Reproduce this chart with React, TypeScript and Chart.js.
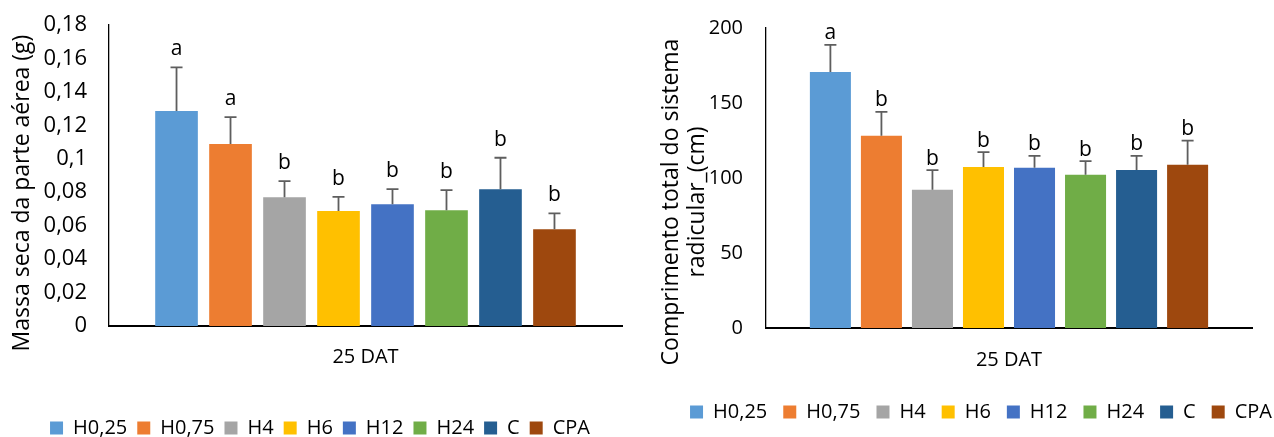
import React, { useEffect, useRef } from "react";
import { Chart, registerables } from "chart.js";

Chart.register(...registerables);

const FONT = "'Open Sans', 'Noto Sans', sans-serif";
Chart.defaults.font.family = FONT;
Chart.defaults.color = "#000";

// ---- data ----
const category = ["25 DAT"];
const groups = ["H0,25", "H0,75", "H4", "H6", "H12", "H24", "C", "CPA"];
const colors = ["#5B9BD5", "#ED7D31", "#A5A5A5", "#FFC000", "#4472C4", "#70AD47", "#255E91", "#9E480E"];

const massaSeca = [0.1285, 0.1088, 0.077, 0.0687, 0.0728, 0.0692, 0.0818, 0.0579];
const massaSecaErro = [0.0262, 0.0161, 0.0096, 0.0085, 0.009, 0.012, 0.0188, 0.0094];
const massaSecaLetras = ["a", "a", "b", "b", "b", "b", "b", "b"];
const massaTicks = ["0", "0,02", "0,04", "0,06", "0,08", "0,1", "0,12", "0,14", "0,16", "0,18"];

const comprimento = [170.7, 128.1, 92.1, 107.4, 106.8, 102.1, 105.4, 108.8];
const comprimentoErro = [18.0, 16.0, 13.1, 9.8, 8.0, 9.1, 9.4, 16.1];
const comprimentoLetras = ["a", "b", "b", "b", "b", "b", "b", "b"];
const comprimentoTicks = ["0", "50", "100", "150", "200"];

const massaTitle = ["Massa seca da parte aérea (g)"];
const comprimentoTitle = ["Comprimento total do sistema", "radicular_(cm)"];

function makeErrorPlugin(errors: number[], letters: string[], gap: number) {
  return {
    id: "errorBarsLetters",
    afterDatasetsDraw(chart: any) {
      const { ctx } = chart;
      const yScale = chart.scales.y;
      chart.data.datasets.forEach((ds: any, i: number) => {
        const meta = chart.getDatasetMeta(i);
        const el = meta.data[0];
        if (!el) return;
        const v = ds.data[0];
        const top = yScale.getPixelForValue(v + errors[i]);
        ctx.save();
        ctx.strokeStyle = "#5E5E5E";
        ctx.lineWidth = 1.8;
        ctx.beginPath();
        ctx.moveTo(el.x, el.y);
        ctx.lineTo(el.x, top);
        ctx.moveTo(el.x - 6, top);
        ctx.lineTo(el.x + 6, top);
        ctx.stroke();
        ctx.fillStyle = "#000";
        ctx.font = `21px ${FONT}`;
        ctx.textAlign = "center";
        ctx.textBaseline = "alphabetic";
        ctx.fillText(letters[i], el.x, top - gap);
        ctx.restore();
      });
    },
  };
}

function makeTitlePlugin(lines: string[], dxs: number[], dy: number, size: number) {
  return {
    id: "yTitleCustom",
    afterDraw(chart: any) {
      const { ctx, chartArea } = chart;
      const cy = (chartArea.top + chartArea.bottom) / 2 + dy;
      ctx.save();
      ctx.fillStyle = "#000";
      ctx.font = `${size}px ${FONT}`;
      ctx.textAlign = "center";
      ctx.textBaseline = "middle";
      lines.forEach((line, i) => {
        ctx.save();
        ctx.translate(chartArea.left + dxs[i], cy);
        ctx.rotate(-Math.PI / 2);
        ctx.fillText(line, 0, 0);
        ctx.restore();
      });
      ctx.restore();
    },
  };
}

type PanelProps = {
  left: number;
  width: number;
  height: number;
  values: number[];
  errors: number[];
  letters: string[];
  tickLabels: string[];
  min: number;
  max: number;
  step: number;
  padTop: number;
  rightSpace: number;
  padBottom: number;
  yAxisWidth: number;
  xAxisHeight: number;
  yTickGap: number;
  yTickSize: number;
  xTickPad: number;
  legendPadding: number;
  catPct: number;
  barPct: number;
  letterGap: number;
  title: string[];
  titleDx: number[];
  titleDy: number;
};

function Panel(p: PanelProps) {
  const ref = useRef<HTMLCanvasElement>(null);
  useEffect(() => {
    const canvas = ref.current!;
    const chart = new Chart(canvas, {
      type: "bar",
      data: {
        labels: category,
        datasets: groups.map((g, i) => ({
          label: g,
          data: [p.values[i]],
          backgroundColor: colors[i],
          borderWidth: 0,
          categoryPercentage: p.catPct,
          barPercentage: p.barPct,
        })),
      },
      options: {
        responsive: false,
        animation: false,
        devicePixelRatio: 1,
        layout: { padding: { top: p.padTop, right: 0, bottom: p.padBottom, left: 0 } },
        plugins: {
          legend: {
            position: "bottom",
            labels: {
              boxWidth: 13,
              boxHeight: 13,
              padding: p.legendPadding,
              color: "#000",
              font: { family: FONT, size: 20 },
            },
          },
          tooltip: { enabled: false },
        },
        scales: {
          x: {
            grid: { display: false, drawTicks: false },
            border: { display: true, color: "#000", width: 2 },
            ticks: { color: "#000", font: { family: FONT, size: 20 }, padding: p.xTickPad },
            afterFit: (s: any) => {
              s.height = p.xAxisHeight;
            },
          },
          y: {
            min: p.min,
            max: p.max,
            grid: { display: false, drawTicks: true, tickLength: p.yTickGap },
            border: { display: true, color: "#000", width: 1.3 },
            ticks: {
              stepSize: p.step,
              color: "#000",
              font: { family: FONT, size: p.yTickSize },
              padding: 1,
              callback: (_v: any, i: number) => p.tickLabels[i],
            },
            afterFit: (s: any) => {
              s.width = p.yAxisWidth;
            },
          },
          spacer: {
            type: "linear",
            position: "right",
            display: true,
            grid: { display: false, drawTicks: false },
            border: { display: false },
            ticks: { display: false },
            afterFit: (s: any) => {
              s.width = p.rightSpace;
            },
          },
        },
      } as any,
      plugins: [
        makeErrorPlugin(p.errors, p.letters, p.letterGap),
        makeTitlePlugin(p.title, p.titleDx, p.titleDy, 23),
      ],
    });
    return () => chart.destroy();
  }, []);
  return (
    <div style={{ position: "absolute", left: p.left, top: 0, width: p.width, height: p.height }}>
      <canvas ref={ref} width={p.width} height={p.height} style={{ display: "block" }} />
    </div>
  );
}

export default function App() {
  return (
    <div
      style={{
        position: "absolute",
        left: 0,
        top: 0,
        width: 1274,
        height: 437,
        overflow: "hidden",
        background: "#fff",
      }}
    >
      <Panel
        left={0}
        width={640}
        height={448}
        values={massaSeca}
        errors={massaSecaErro}
        letters={massaSecaLetras}
        tickLabels={massaTicks}
        min={0}
        max={0.18}
        step={0.02}
        padTop={25}
        rightSpace={18}
        padBottom={0}
        yAxisWidth={109}
        xAxisHeight={82}
        yTickGap={21}
        yTickSize={22}
        xTickPad={19}
        legendPadding={10}
        catPct={0.842}
        barPct={0.79}
        letterGap={12}
        title={massaTitle}
        titleDx={[-87]}
        titleDy={17.5}
      />
      <Panel
        left={640}
        width={682}
        height={437}
        values={comprimento}
        errors={comprimentoErro}
        letters={comprimentoLetras}
        tickLabels={comprimentoTicks}
        min={0}
        max={200}
        step={50}
        padTop={28}
        rightSpace={70}
        padBottom={5}
        yAxisWidth={126}
        xAxisHeight={58}
        yTickGap={22}
        yTickSize={20}
        xTickPad={20}
        legendPadding={16}
        catPct={0.84}
        barPct={0.804}
        letterGap={5.5}
        title={comprimentoTitle}
        titleDx={[-95, -68.5]}
        titleDy={24}
      />
    </div>
  );
}
